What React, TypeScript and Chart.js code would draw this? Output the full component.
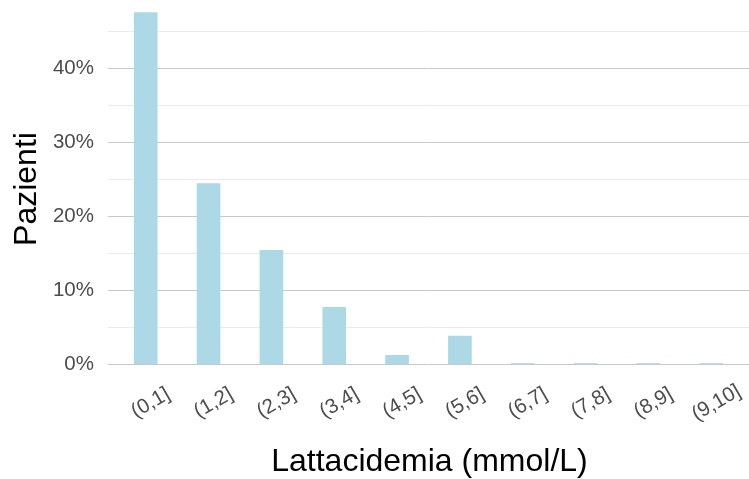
import React, { useEffect, useRef } from "react";
import { Chart, registerables } from "chart.js";

Chart.register(...registerables);

const categories = ["(0,1]", "(1,2]", "(2,3]", "(3,4]", "(4,5]", "(5,6]", "(6,7]", "(7,8]", "(8,9]", "(9,10]"];
const percentPatients = [47.5, 24.4, 15.4, 7.7, 1.2, 3.8, 0.1, 0.1, 0.1, 0.1];
const yTicks = [0, 5, 10, 15, 20, 25, 30, 35, 40, 45];
const xTitle = "Lattacidemia (mmol/L)";
const yTitle = "Pazienti";

const FONT = "'Liberation Sans', Arial, Helvetica, sans-serif";
const TICK_SIZE = 20.5;
const TITLE_SIZE = 32;
const TICK_COLOR = "#4d4d4d";

export default function App() {
  const ref = useRef<HTMLCanvasElement | null>(null);

  useEffect(() => {
    document.body.style.margin = "0";
    const canvas = ref.current;
    if (!canvas) return;

    const labelsPlugin = {
      id: "customLabels",
      afterDraw(chart: any) {
        const ctx = chart.ctx;
        const xs = chart.scales.x;
        const area = chart.chartArea;
        ctx.save();
        ctx.fillStyle = TICK_COLOR;
        ctx.font = `${TICK_SIZE}px ${FONT}`;
        ctx.textAlign = "center";
        ctx.textBaseline = "middle";
        categories.forEach((c, i) => {
          const px = xs.getPixelForValue(i);
          ctx.save();
          ctx.translate(px + 5, area.bottom + 21);
          ctx.rotate((-30 * Math.PI) / 180);
          ctx.fillText(c, 0, 0);
          ctx.restore();
        });
        ctx.fillStyle = "#000000";
        ctx.font = `${TITLE_SIZE}px ${FONT}`;
        ctx.textAlign = "center";
        ctx.textBaseline = "middle";
        ctx.fillText(xTitle, (area.left + area.right) / 2 + 1, 462);
        ctx.save();
        ctx.translate(27, (area.top + area.bottom) / 2 - 2);
        ctx.rotate(-Math.PI / 2);
        ctx.fillText(yTitle, 0, 0);
        ctx.restore();
        ctx.restore();
      },
    };

    const chart = new Chart(canvas, {
      type: "bar",
      data: {
        datasets: [
          {
            data: percentPatients.map((v, i) => ({ x: i, y: v })),
            backgroundColor: "#ADD8E6",
            borderWidth: 0,
            barThickness: 23,
          },
        ],
      },
      options: {
        animation: false,
        responsive: true,
        maintainAspectRatio: false,
        layout: { padding: 0 },
        plugins: { legend: { display: false }, tooltip: { enabled: false } },
        scales: {
          x: {
            type: "linear",
            offset: false,
            min: -0.6,
            max: 9.6,
            grid: { display: false, offset: false },
            border: { display: false },
            ticks: { display: false },
            afterFit(scale: any) {
              scale.height = 97;
              scale.paddingLeft = 0;
              scale.paddingRight = 0;
            },
          },
          y: {
            min: -2.4,
            max: 49.2,
            border: { display: false },
            afterBuildTicks(scale: any) {
              scale.ticks = yTicks.map((v) => ({ value: v }));
            },
            afterFit(scale: any) {
              scale.width = 108;
              scale.paddingTop = 0;
              scale.paddingBottom = 0;
            },
            grid: {
              drawTicks: false,
              lineWidth: 1,
              color: (c: any) => (c.tick && c.tick.value % 10 === 0 ? "#c8c8c8" : "#ebebeb"),
            },
            ticks: {
              padding: 14,
              color: TICK_COLOR,
              font: { size: TICK_SIZE, family: FONT },
              callback: (v: any) => (Number(v) % 10 === 0 ? `${v}%` : ""),
            },
          },
        },
      },
      plugins: [labelsPlugin],
    } as any);

    return () => chart.destroy();
  }, []);

  return (
    <div style={{ width: 749, height: 479, position: "relative" }}>
      <canvas ref={ref} />
    </div>
  );
}
